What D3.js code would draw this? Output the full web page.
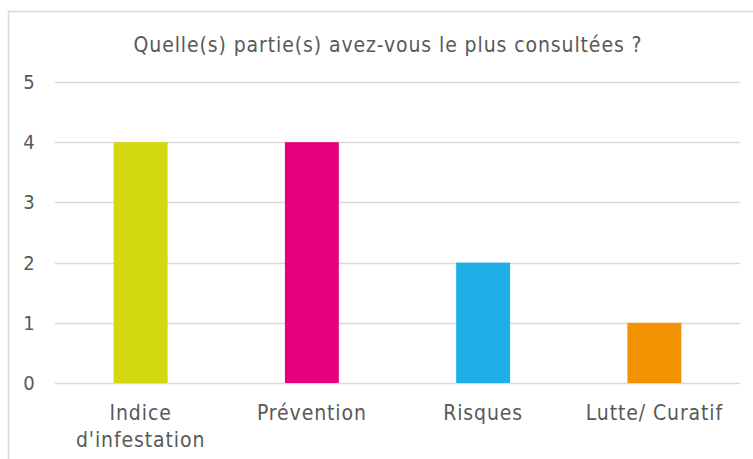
<!DOCTYPE html>
<html>
<head>
<meta charset="utf-8">
<script src="https://cdn.jsdelivr.net/npm/d3@7"></script>
<style>
  body { margin: 0; background: #fff; }
  svg text { font-family: "DejaVu Sans Condensed", "DejaVu Sans", sans-serif; fill: #595959; }
</style>
</head>
<body>
<div class="graph"></div>
<script>
var categories = [["Indice", "d'infestation"], ["Prévention"], ["Risques"], ["Lutte/ Curatif"]]
var values = [4, 4, 2, 1]
var colors = ["#d4d80f", "#e6007e", "#1eafe6", "#f39200"]
var ticks = [0, 1, 2, 3, 4, 5]
var title = "Quelle(s) partie(s) avez-vous le plus consultées ?"

var w = 753
var h = 459

var svg = d3.select(".graph")
  .append("svg")
  .attr("width", w)
  .attr("height", h)

// chart frame (only top and left edges are visible in the crop)
svg.append("path")
  .attr("d", "M8.5,470 V11.5 H760")
  .attr("fill", "none")
  .attr("stroke", "#d9d9d9")
  .attr("stroke-width", 1.5)

svg.append("text")
  .attr("x", 388)
  .attr("y", 52)
  .attr("text-anchor", "middle")
  .attr("font-size", 21)
  .attr("letter-spacing", 0.9)
  .text(title)

var x = d3.scaleBand()
  .domain(d3.range(values.length))
  .range([55, 740])

var y = d3.scaleLinear()
  .domain([0, 5])
  .range([383, 82])

svg.selectAll("line.grid")
  .data(ticks)
  .enter()
  .append("line")
  .attr("class", "grid")
  .attr("x1", 55)
  .attr("x2", 740)
  .attr("y1", function(d){ return Math.round(y(d)) + 0.5 })
  .attr("y2", function(d){ return Math.round(y(d)) + 0.5 })
  .attr("stroke", "#d9d9d9")
  .attr("stroke-width", 1.5)

svg.selectAll("text.tick")
  .data(ticks)
  .enter()
  .append("text")
  .attr("class", "tick")
  .attr("x", 29)
  .attr("y", function(d){ return y(d) + 7 })
  .attr("text-anchor", "middle")
  .attr("font-size", 20)
  .text(function(d){ return d })

var barW = x.bandwidth() * 0.315

svg.selectAll("rect")
  .data(values)
  .enter()
  .append("rect")
  .attr("x", function(d, i){ return x(i) + x.bandwidth() / 2 - barW / 2 })
  .attr("y", function(d){ return y(d) })
  .attr("width", barW)
  .attr("height", function(d){ return y(0) - y(d) })
  .attr("fill", function(d, i){ return colors[i] })

var labels = svg.selectAll("text.cat")
  .data(categories)
  .enter()
  .append("text")
  .attr("class", "cat")
  .attr("text-anchor", "middle")
  .attr("font-size", 21)
  .attr("letter-spacing", 0.9)

labels.selectAll("tspan")
  .data(function(d, i){ return d.map(function(s){ return { s: s, i: i } }) })
  .enter()
  .append("tspan")
  .attr("x", function(d){ return x(d.i) + x.bandwidth() / 2 })
  .attr("y", function(d, j){ return 420 + j * 27 })
  .text(function(d){ return d.s })
</script>
</body>
</html>
